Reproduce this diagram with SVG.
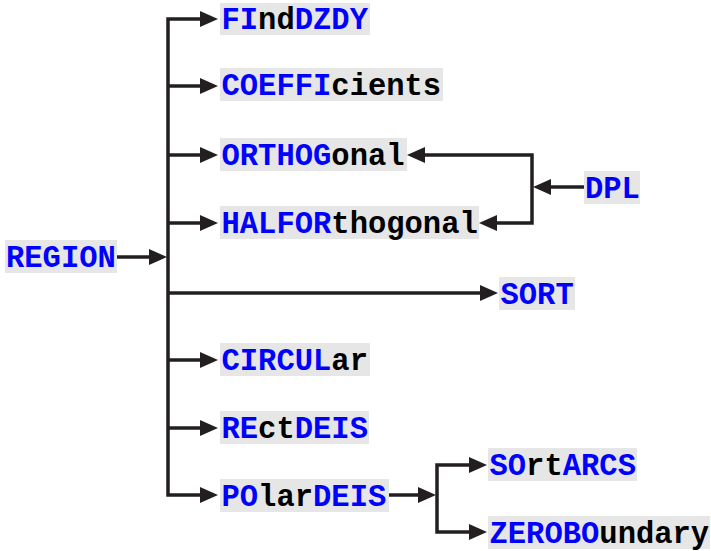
<svg xmlns="http://www.w3.org/2000/svg" width="711" height="551" viewBox="0 0 711 551">
<style>
.bg{fill:#e6e6e6}
.t{font-family:"Liberation Mono","DejaVu Sans Mono",monospace;font-weight:bold;font-size:30.5px;fill:#000}
.b{fill:#0000ff}
.c{fill:none;stroke:#231f20;stroke-width:3.5}
</style>
<defs>
<marker id="ah" viewBox="0 0 18 16" refX="8" refY="8" markerWidth="18" markerHeight="16" markerUnits="userSpaceOnUse" orient="auto">
<path d="M0,0 L18,8 L0,16 z" fill="#231f20"/>
</marker>
</defs>
<g id="connectors">
<path class="c" d="M168,257 V19 H208" marker-end="url(#ah)"/>
<path class="c" d="M168,257 V495 H208" marker-end="url(#ah)"/>
<path class="c" d="M168,86 H208" marker-end="url(#ah)"/>
<path class="c" d="M168,155 H208" marker-end="url(#ah)"/>
<path class="c" d="M168,223 H208" marker-end="url(#ah)"/>
<path class="c" d="M168,360 H208" marker-end="url(#ah)"/>
<path class="c" d="M168,428 H208" marker-end="url(#ah)"/>
<path class="c" d="M168,293 H488" marker-end="url(#ah)"/>
<path class="c" d="M117,257 H157" marker-end="url(#ah)"/>
<path class="c" d="M584,187 H543" marker-end="url(#ah)"/>
<path class="c" d="M532,187 V155 H417" marker-end="url(#ah)"/>
<path class="c" d="M532,187 V223 H489" marker-end="url(#ah)"/>
<path class="c" d="M389,495 H426" marker-end="url(#ah)"/>
<path class="c" d="M437,495 V465 H477" marker-end="url(#ah)"/>
<path class="c" d="M437,495 V532 H477" marker-end="url(#ah)"/>
</g>
<g id="REGION"><rect class="bg" x="5" y="240" width="112" height="33"/><text class="t b" x="6" y="267">REGION</text></g>
<g id="FIndDZDY"><rect class="bg" x="220" y="3" width="150" height="32"/><text class="t" x="221.5" y="29"><tspan class="b">FI</tspan>nd<tspan class="b">DZDY</tspan></text></g>
<g id="COEFFIcients"><rect class="bg" x="220" y="68" width="223" height="33"/><text class="t" x="221.5" y="94.5"><tspan class="b">COEFFI</tspan>cients</text></g>
<g id="ORTHOGonal"><rect class="bg" x="220" y="138" width="187" height="33"/><text class="t" x="221.5" y="164.5"><tspan class="b">ORTHOG</tspan>onal</text></g>
<g id="HALFORthogonal"><rect class="bg" x="220" y="206" width="259" height="33"/><text class="t" x="221.5" y="232.5"><tspan class="b">HALFOR</tspan>thogonal</text></g>
<g id="DPL"><rect class="bg" x="584" y="171" width="56" height="33"/><text class="t b" x="585" y="197.5">DPL</text></g>
<g id="SORT"><rect class="bg" x="499" y="277" width="76" height="33"/><text class="t b" x="500.5" y="303.5">SORT</text></g>
<g id="CIRCULar"><rect class="bg" x="220" y="343" width="150" height="33"/><text class="t" x="221.5" y="369.5"><tspan class="b">CIRCUL</tspan>ar</text></g>
<g id="REctDEIS"><rect class="bg" x="220" y="411" width="149" height="33"/><text class="t" x="221.5" y="437.5"><tspan class="b">RE</tspan>ct<tspan class="b">DEIS</tspan></text></g>
<g id="POlarDEIS"><rect class="bg" x="220" y="479" width="169" height="33"/><text class="t" x="221.5" y="505.5"><tspan class="b">PO</tspan>lar<tspan class="b">DEIS</tspan></text></g>
<g id="SOrtARCS"><rect class="bg" x="488" y="448" width="149" height="33"/><text class="t" x="489.5" y="474.5"><tspan class="b">SO</tspan>rt<tspan class="b">ARCS</tspan></text></g>
<g id="ZEROBOundary"><rect class="bg" x="488" y="516" width="222" height="33"/><text class="t" x="489.5" y="542.5"><tspan class="b">ZEROBO</tspan>undary</text></g>
</svg>
